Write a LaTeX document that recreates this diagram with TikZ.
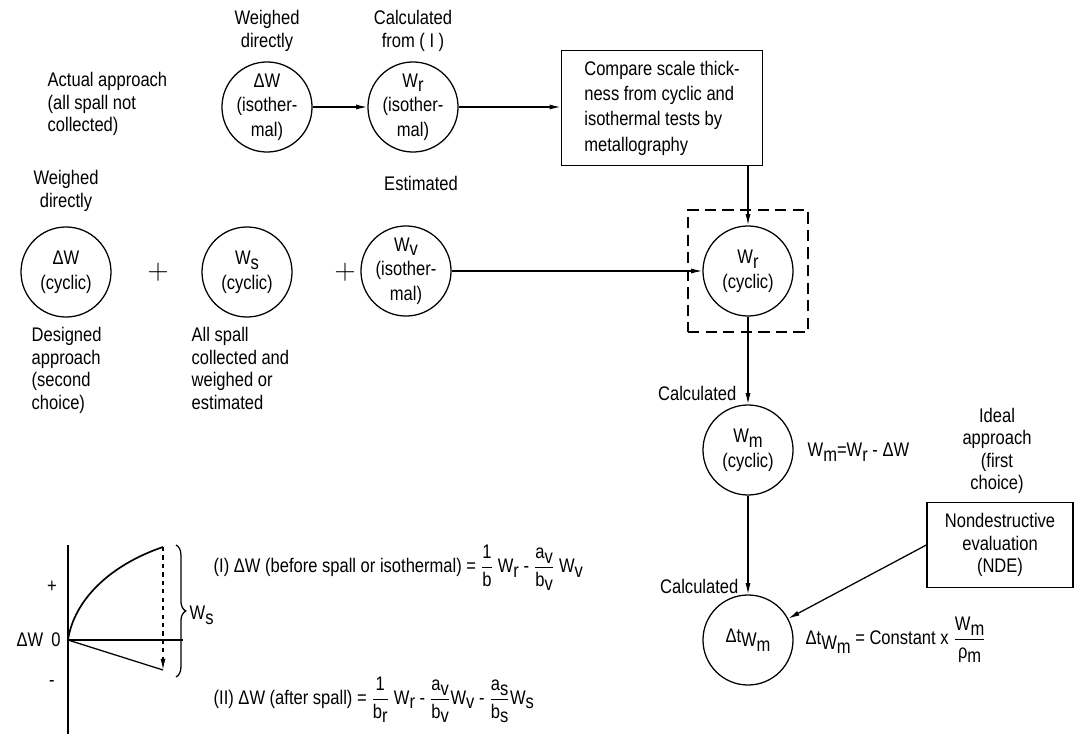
\documentclass[tikz,border=0pt]{standalone}
\usepackage{fontspec}
\setmainfont{Liberation Sans}[FakeStretch=0.84]
\usetikzlibrary{arrows.meta,decorations.pathreplacing}

\newcommand{\lowsub}[1]{\raisebox{-0.45ex}{#1}}
\newcommand{\frc}[2]{$\displaystyle\frac{\hbox{#1}}{\hbox{#2}}$}

\tikzset{
  stage/.style={circle, draw, line width=0.9pt, minimum size=2.25cm, inner sep=0pt, align=center,
                font=\fontsize{14}{17.5}\selectfont},
  note/.style={align=center, inner sep=1pt},
  flow/.style={line width=0.9pt, -{Latex[length=8pt,width=3.6pt]}},
  infobox/.style={draw, line width=0.9pt, inner sep=0pt},
  dashframe/.style={draw, line width=0.9pt, dash pattern=on 8pt off 4.5pt, minimum width=3cm, minimum height=3.05cm},
}

\begin{document}
\begin{tikzpicture}[x=0.025cm, y=-0.025cm, font=\fontsize{14}{16}\selectfont]
        \useasboundingbox (0,0) rectangle (1076,734);

        % 实际方法 (isothermal)
        \node[note, align=left, anchor=west] (actual) at (46,104) {Actual approach\\(all spall not\\collected)};
        \node[note] (wdir1) at (267,31) {Weighed\\directly};
        \node[note] (calcI) at (413,31) {Calculated\\from ( I )};
        \node[stage] (dWiso) at (267,107) {ΔW\\(isother-\\mal)};
        \node[stage] (Wriso) at (413,107) {W\lowsub{r}\\(isother-\\mal)};
        \node[infobox, minimum width=5.03cm, minimum height=2.88cm, align=left,
              font=\fontsize{14}{18}\selectfont] (cmp) at (662,108)
              {Compare scale thick-\\ness from cyclic and\\isothermal tests by\\metallography};

        % 设计方法 (cyclic)
        \node[note] (wdir2) at (66,191) {Weighed\\directly};
        \node[stage] (dWcyc) at (66,272) {ΔW\\(cyclic)};
        \node (plus1) at (158,272) {\huge$+$};
        \node[stage] (Wscyc) at (247,272) {W\lowsub{s}\\(cyclic)};
        \node (plus2) at (345,272) {\huge$+$};
        \node[note] (est) at (421,183) {Estimated};
        \node[stage] (Wviso) at (406,271) {W\lowsub{v}\\(isother-\\mal)};
        \node[note, align=left, anchor=north west] (designed) at (30,326) {Designed\\approach\\(second\\choice)};
        \node[note, align=left, anchor=north west] (allspall) at (190,326) {All spall\\collected and\\weighed or\\estimated};

        % 右侧计算链
        \node[dashframe] (frame) at (748,271) {};
        \node[stage] (Wrcyc) at (748,271) {W\lowsub{r}\\(cyclic)};
        \node[note, anchor=east] (calc2) at (738,393) {Calculated};
        \node[stage] (Wmcyc) at (748,450) {W\lowsub{m}\\(cyclic)};
        \node[note, anchor=west] (eqWm) at (806,452) {W\lowsub{m}=W\lowsub{r} - ΔW};
        \node[note] (ideal) at (997,451) {Ideal\\approach\\(first\\choice)};
        \node[infobox, minimum width=3.65cm, minimum height=2.125cm, align=center] (nde) at (1000,545)
              {Nondestructive\\evaluation\\(NDE)};
        \node[note, anchor=east] (calc3) at (740,586) {Calculated};
        \node[stage] (dtWm) at (748,640) {Δt\lowsub{W\lowsub{m}}};
        \node[note, anchor=west] (eqdt) at (804,640) {Δt\lowsub{W\lowsub{m}} = Constant x \frc{W\lowsub{m}}{ρ\lowsub{m}}};

        % 箭头
        \draw[flow] (dWiso) -- (Wriso);
        \draw[flow] (Wriso.east) -- (Wriso.east -| cmp.west);
        \draw[flow] (cmp.south -| Wrcyc) -- (Wrcyc.north);
        \draw[flow] (Wviso.east) -- (Wrcyc.west);
        \draw[flow] (Wrcyc.south) -- (Wmcyc.north);
        \draw[flow] (Wmcyc.south) -- (dtWm.north);
        \draw[flow] (nde.west) -- (dtWm);

        % 坐标图
        \draw[line width=0.9pt] (68,545) -- (68,734);
        \draw[line width=1.6pt] (68,640) -- (183,640);
        \draw[line width=1.2pt] (68,640) .. controls (74,600) and (110,565) .. (163,547);
        \draw[line width=0.9pt] (68,640) -- (163,670);
        \draw[line width=0.9pt, dashed, -{Latex[length=8pt,width=3.6pt]}] (163,547) -- (163,670);
        \draw[line width=0.9pt, decorate, decoration={brace, amplitude=7pt}] (176,545) -- (176,677);
        \node[note, anchor=west] (Wsbr) at (188,615) {W\lowsub{s}};
        \node[note] (dWax) at (30,640) {ΔW};
        \node[note] (zero) at (56,640) {0};
        \node[note] (pos) at (52,587) {+};
        \node[note] (neg) at (52,683) {-};

        % 公式
        \node[note, anchor=west] (eqI) at (212,568)
              {(I) ΔW (before spall or isothermal) = \frc{1}{b} W\lowsub{r} - \frc{a\lowsub{v}}{b\lowsub{v}} W\lowsub{v}};
        \node[note, anchor=west] (eqII) at (212,700)
              {(II) ΔW (after spall) = \frc{1}{b\lowsub{r}} W\lowsub{r} - \frc{a\lowsub{v}}{b\lowsub{v}}W\lowsub{v} - \frc{a\lowsub{s}}{b\lowsub{s}}W\lowsub{s}};
\end{tikzpicture}
\end{document}
